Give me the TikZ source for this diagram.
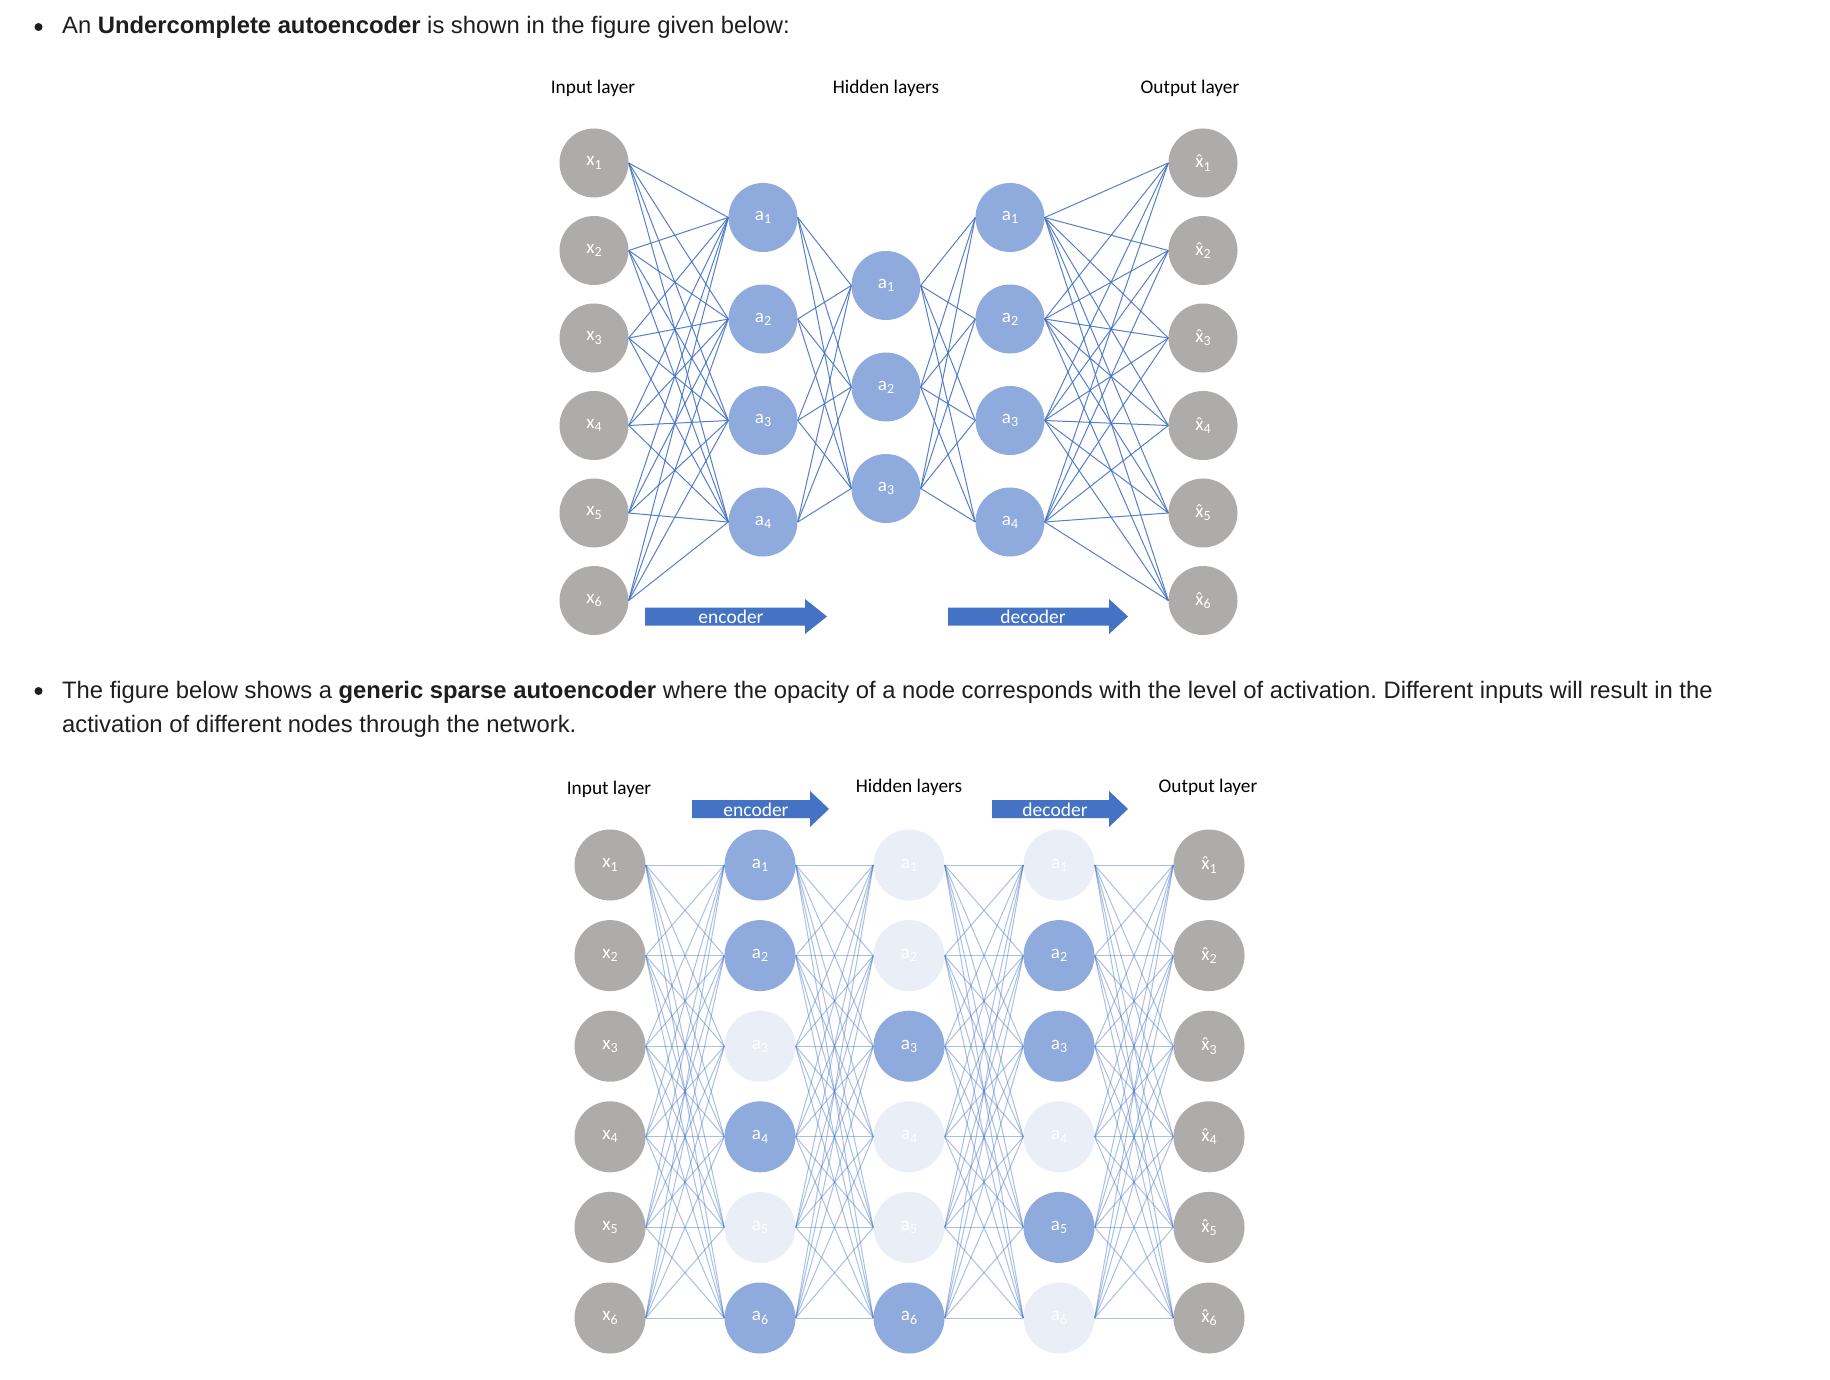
\documentclass[tikz,border=0pt]{standalone}
\usepackage{fontspec}
\setmainfont{Liberation Sans}
\newfontfamily\diagfont{Carlito}
\newcommand\hatx{\accent"02C6 x}
\newcommand\nsub[1]{\raisebox{-0.35ex}{\fontsize{14}{14}\selectfont #1}}
\frenchspacing
\definecolor{nodegrey}{HTML}{AEABAB}
\definecolor{nodeblue}{HTML}{8FAADC}
\definecolor{nodefade}{HTML}{E9EEF7}
\definecolor{linkblue}{HTML}{4472C4}
\definecolor{textdark}{HTML}{1E1E1E}
\tikzset{
  para/.style={inner sep=0pt, text=textdark, font=\fontsize{23.8}{28}\selectfont},
  layerlabel/.style={inner sep=0pt, text=black, font=\diagfont\fontsize{19.3}{22}\selectfont},
  arrowtext/.style={inner sep=0pt, text=white, font=\diagfont\fontsize{19.5}{22}\selectfont},
  neuron/.style={circle, inner sep=0pt, text=white, font=\diagfont\fontsize{19}{20}\selectfont},
  gnode/.style={neuron, fill=nodegrey, minimum size=69pt},
  bnode/.style={neuron, fill=nodeblue, minimum size=69pt},
  sgnode/.style={neuron, fill=nodegrey, minimum size=71pt},
  sbnode/.style={neuron, fill=nodeblue, minimum size=71pt},
  sfnode/.style={neuron, fill=nodefade, minimum size=71pt},
  toplink/.style={draw=linkblue, line width=1pt, draw opacity=0.9},
  botlink/.style={draw=linkblue, line width=1pt, draw opacity=0.45},
  bigarrow/.style={fill=linkblue},
}
\begin{document}
\begin{tikzpicture}[x=1pt,y=-1pt]
\useasboundingbox[fill=white] (0,0) rectangle (1830,1380);

% ---- paragraphs ----
\fill[textdark] (38.5,27) circle (4);
\node[para, anchor=base west] (p1) at (62,34) {An \textbf{Undercomplete autoencoder} is shown in the figure given below:};
\fill[textdark] (38.5,691) circle (4);
\node[para, anchor=base west] (p2) at (62,698) {The figure below shows a \textbf{generic sparse autoencoder} where the opacity of a node corresponds with the level of activation. Different inputs will result in the};
\node[para, anchor=base west] (p3) at (62,732) {activation of different nodes through the network.};

% ---- top diagram ----
\node[layerlabel] (tl1) at (593,88.5) {Input layer};
\node[layerlabel] (tl2) at (886,88.5) {Hidden layers};
\node[layerlabel] (tl3) at (1190,88.5) {Output layer};

\foreach \i in {1,...,6} {
  \node[gnode] (tA\i) at (594,{163+87.5*(\i-1)}) {x\nsub{\i}};
  \node[gnode] (tE\i) at (1203,{163+87.5*(\i-1)}) {\hatx\nsub{\i}};
}
\foreach \i in {1,...,4} {
  \node[bnode] (tB\i) at (763,{217.5+101.5*(\i-1)}) {a\nsub{\i}};
  \node[bnode] (tD\i) at (1010,{217.5+101.5*(\i-1)}) {a\nsub{\i}};
}
\foreach \i in {1,...,3} {
  \node[bnode] (tC\i) at (886,{285.5+101.5*(\i-1)}) {a\nsub{\i}};
}
\foreach \i in {1,...,6} \foreach \j in {1,...,4} {
  \draw[toplink] (tA\i.east) -- (tB\j.west);
  \draw[toplink] (tD\j.east) -- (tE\i.west);
}
\foreach \i in {1,...,4} \foreach \j in {1,...,3} {
  \draw[toplink] (tB\i.east) -- (tC\j.west);
  \draw[toplink] (tC\j.east) -- (tD\i.west);
}

\fill[bigarrow] (645,607.5) -- (805,607.5) -- (805,599) -- (827,616.5) -- (805,634) -- (805,625.5) -- (645,625.5) -- cycle;
\node[arrowtext] (tenc) at (731,617) {encoder};
\fill[bigarrow] (948,607.5) -- (1109,607.5) -- (1109,599) -- (1128,616.5) -- (1109,634) -- (1109,625.5) -- (948,625.5) -- cycle;
\node[arrowtext] (tdec) at (1033,617) {decoder};

% ---- bottom diagram ----
\node[layerlabel] (bl1) at (609,789) {Input layer};
\node[layerlabel] (bl2) at (909,787) {Hidden layers};
\node[layerlabel] (bl3) at (1208,787) {Output layer};

\fill[bigarrow] (692,800) -- (810,800) -- (810,791) -- (829,809) -- (810,827) -- (810,818) -- (692,818) -- cycle;
\node[arrowtext] (benc) at (756,810) {encoder};
\fill[bigarrow] (992,800) -- (1109,800) -- (1109,791) -- (1128,809) -- (1109,827) -- (1109,818) -- (992,818) -- cycle;
\node[arrowtext] (bdec) at (1055,810) {decoder};

\foreach \i in {1,...,6} {
  \node[sgnode] (bA\i) at (610,{865+90.6*(\i-1)}) {x\nsub{\i}};
  \node[sgnode] (bE\i) at (1209,{865+90.6*(\i-1)}) {\hatx\nsub{\i}};
}
\foreach \i/\s in {1/sbnode,2/sbnode,3/sfnode,4/sbnode,5/sfnode,6/sbnode} {
  \node[\s] (bB\i) at (760,{865+90.6*(\i-1)}) {a\nsub{\i}};
}
\foreach \i/\s in {1/sfnode,2/sfnode,3/sbnode,4/sfnode,5/sfnode,6/sbnode} {
  \node[\s] (bC\i) at (909,{865+90.6*(\i-1)}) {a\nsub{\i}};
}
\foreach \i/\s in {1/sfnode,2/sbnode,3/sbnode,4/sfnode,5/sbnode,6/sfnode} {
  \node[\s] (bD\i) at (1059,{865+90.6*(\i-1)}) {a\nsub{\i}};
}
\foreach \i in {1,...,6} \foreach \j in {1,...,6} {
  \draw[botlink] (bA\i.east) -- (bB\j.west);
  \draw[botlink] (bB\i.east) -- (bC\j.west);
  \draw[botlink] (bC\i.east) -- (bD\j.west);
  \draw[botlink] (bD\i.east) -- (bE\j.west);
}
\end{tikzpicture}
\end{document}
